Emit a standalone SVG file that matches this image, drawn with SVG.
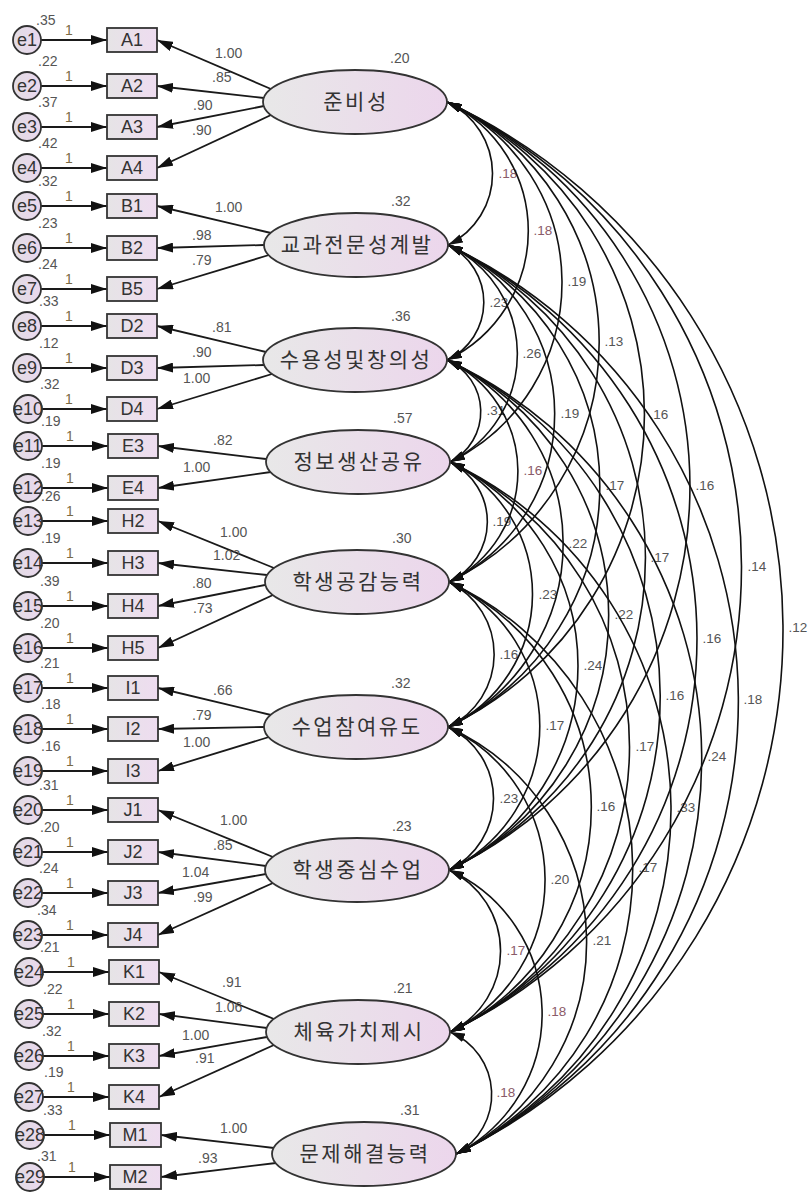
<svg xmlns="http://www.w3.org/2000/svg" width="808" height="1193" viewBox="0 0 808 1193">
<defs>
<linearGradient id="gLat" x1="0" y1="0" x2="1" y2="0"><stop offset="0" stop-color="#e8e8e8"/><stop offset="1" stop-color="#ecd6ec"/></linearGradient>
<linearGradient id="gBox" x1="0" y1="0" x2="1" y2="0"><stop offset="0" stop-color="#e6e4e6"/><stop offset="1" stop-color="#eedcf0"/></linearGradient>
<linearGradient id="gErr" x1="0" y1="0" x2="1" y2="0"><stop offset="0" stop-color="#e2dce4"/><stop offset="1" stop-color="#ead8ee"/></linearGradient>
<marker id="ah" viewBox="0 0 16 10" refX="16" refY="5" markerWidth="16" markerHeight="10" markerUnits="userSpaceOnUse" orient="auto-start-reverse"><path d="M0,0 L16,5 L0,10 z" fill="#111"/></marker>
<marker id="ac" viewBox="0 0 15 9" refX="15" refY="4.5" markerWidth="15" markerHeight="9" markerUnits="userSpaceOnUse" orient="auto-start-reverse"><path d="M0,0 L15,4.5 L0,9 z" fill="#111"/></marker>
</defs>
<style>
.box rect{fill:url(#gBox);stroke:#333;stroke-width:1.8}
.lat ellipse{fill:url(#gLat);stroke:#333;stroke-width:1.8}
.err circle{fill:url(#gErr);stroke:#333;stroke-width:1.8}
.bt{font-family:"Liberation Sans",Arial,sans-serif;font-size:18px;fill:#333;text-anchor:middle}
.et{font-family:"Liberation Sans",Arial,sans-serif;font-size:18px;fill:#333;text-anchor:middle}
.kr{font-family:"Noto Sans CJK KR","Noto Sans",sans-serif;font-size:21px;fill:#333;text-anchor:middle;letter-spacing:2.5px}
.n{font-family:"Liberation Sans",Arial,sans-serif;font-size:14px;fill:#555}
.one{font-family:"Liberation Sans",Arial,sans-serif;font-size:14px;fill:#7a6a45}
.c{font-family:"Liberation Sans",Arial,sans-serif;font-size:13.5px;fill:#555;text-anchor:middle}
.cr{fill:#8a5a68}
.ld line{stroke:#1a1a1a;stroke-width:1.8;marker-end:url(#ah)}
.cv path{stroke:#111;stroke-width:1.6;fill:none;marker-start:url(#ac);marker-end:url(#ac)}
</style>
<rect width="808" height="1193" fill="#fff"/>

<g id="connectors">
<g class="ld">
<line x1="41" y1="40" x2="107" y2="40"/><line x1="41" y1="86" x2="107" y2="86"/><line x1="41" y1="127" x2="107" y2="127"/><line x1="41" y1="168" x2="107" y2="168"/>
<line x1="41" y1="206" x2="107" y2="206"/><line x1="41" y1="248" x2="107" y2="248"/><line x1="41" y1="289" x2="107" y2="289"/>
<line x1="41" y1="326" x2="107" y2="326"/><line x1="41" y1="368" x2="107" y2="368"/><line x1="42" y1="409" x2="107" y2="409"/>
<line x1="42" y1="446" x2="108" y2="446"/><line x1="42" y1="488" x2="108" y2="488"/>
<line x1="42" y1="521" x2="108" y2="521"/><line x1="42" y1="563" x2="108" y2="563"/><line x1="42" y1="606" x2="108" y2="606"/><line x1="42" y1="648" x2="108" y2="648"/>
<line x1="42" y1="688" x2="108" y2="688"/><line x1="42" y1="729" x2="108" y2="729"/><line x1="42" y1="771" x2="108" y2="771"/>
<line x1="42" y1="810" x2="108" y2="810"/><line x1="42" y1="852" x2="108" y2="852"/><line x1="42" y1="893" x2="108" y2="893"/><line x1="42" y1="935" x2="108" y2="935"/>
<line x1="43" y1="972" x2="109" y2="972"/><line x1="43" y1="1014" x2="109" y2="1014"/><line x1="43" y1="1056" x2="109" y2="1056"/><line x1="43" y1="1097" x2="109" y2="1097"/>
<line x1="44" y1="1135" x2="110" y2="1135"/><line x1="44" y1="1177" x2="110" y2="1177"/>

<line x1="271" y1="89" x2="157" y2="40"/><line x1="264" y1="98" x2="157" y2="86"/><line x1="264" y1="106" x2="157" y2="127"/><line x1="271" y1="115" x2="157" y2="168"/>
<line x1="271" y1="233" x2="157" y2="206"/><line x1="264" y1="245" x2="157" y2="248"/><line x1="269" y1="255" x2="157" y2="289"/>
<line x1="266" y1="352" x2="157" y2="326"/><line x1="264" y1="365" x2="157" y2="368"/><line x1="272" y1="374" x2="157" y2="409"/>
<line x1="266" y1="459" x2="158" y2="446"/><line x1="271" y1="472" x2="158" y2="488"/>
<line x1="274" y1="568" x2="158" y2="521"/><line x1="267" y1="575" x2="158" y2="563"/><line x1="265" y1="585" x2="158" y2="606"/><line x1="273" y1="595" x2="158" y2="648"/>
<line x1="271" y1="715" x2="158" y2="688"/><line x1="264" y1="727" x2="158" y2="729"/><line x1="269" y1="737" x2="158" y2="771"/>
<line x1="273" y1="857" x2="158" y2="810"/><line x1="266" y1="866" x2="158" y2="852"/><line x1="266" y1="874" x2="158" y2="893"/><line x1="273" y1="883" x2="158" y2="935"/>
<line x1="274" y1="1019" x2="159" y2="972"/><line x1="267" y1="1028" x2="159" y2="1014"/><line x1="267" y1="1037" x2="159" y2="1056"/><line x1="274" y1="1045" x2="159" y2="1097"/>
<line x1="274" y1="1148" x2="161" y2="1135"/><line x1="276" y1="1163" x2="161" y2="1177"/>
</g>

<g id="cov-labels">
<text class="c cr" x="508" y="178">.18</text>
<text class="c cr" x="543" y="235">.18</text>
<text class="c" x="577" y="286">.19</text>
<text class="c" x="614" y="346">.13</text>
<text class="c" x="659" y="419">.16</text>
<text class="c" x="705" y="490">.16</text>
<text class="c" x="757" y="571">.14</text>
<text class="c" x="798" y="632">.12</text>
<text class="c" x="499" y="307">.23</text>
<text class="c" x="532" y="358">.26</text>
<text class="c" x="570" y="418">.19</text>
<text class="c" x="615" y="490">.17</text>
<text class="c" x="660" y="562">.17</text>
<text class="c" x="712" y="643">.16</text>
<text class="c" x="753" y="704">.18</text>
<text class="c" x="496" y="415">.31</text>
<text class="c cr" x="533" y="475">.16</text>
<text class="c" x="578" y="548">.22</text>
<text class="c" x="624" y="619">.22</text>
<text class="c" x="675" y="700">.16</text>
<text class="c" x="717" y="761">.24</text>
<text class="c" x="502" y="526">.19</text>
<text class="c" x="548" y="599">.23</text>
<text class="c" x="593" y="670">.24</text>
<text class="c" x="645" y="751">.17</text>
<text class="c" x="686" y="812">.33</text>
<text class="c" x="509" y="659">.16</text>
<text class="c" x="555" y="730">.17</text>
<text class="c" x="606" y="811">.16</text>
<text class="c" x="648" y="872">.17</text>
<text class="c" x="509" y="803">.23</text>
<text class="c" x="560" y="884">.20</text>
<text class="c" x="602" y="945">.21</text>
<text class="c cr" x="516" y="955">.17</text>
<text class="c cr" x="557" y="1016">.18</text>
<text class="c cr" x="506" y="1097">.18</text>
</g>

<g class="cv">
<path d="M447,102 A79.3,79.3 0 0 1 448,245"/>
<path d="M447,102 A143,143 0 0 1 447,360"/>
<path d="M447,102 A199.5,199.5 0 0 1 450,462"/>
<path d="M447,102 A266.1,266.1 0 0 1 449,582"/>
<path d="M447,102 A346.4,346.4 0 0 1 448,727"/>
<path d="M447,102 A425.7,425.7 0 0 1 449,870"/>
<path d="M447,102 A515.5,515.5 0 0 1 450,1032"/>
<path d="M447,102 A583.1,583.1 0 0 1 456,1154"/>
<path d="M448,245 A63.7,63.7 0 0 1 447,360"/>
<path d="M448,245 A120.3,120.3 0 0 1 450,462"/>
<path d="M448,245 A186.8,186.8 0 0 1 449,582"/>
<path d="M448,245 A267.2,267.2 0 0 1 448,727"/>
<path d="M448,245 A346.4,346.4 0 0 1 449,870"/>
<path d="M448,245 A436.2,436.2 0 0 1 450,1032"/>
<path d="M448,245 A503.9,503.9 0 0 1 456,1154"/>
<path d="M447,360 A56.5,56.5 0 0 1 450,462"/>
<path d="M447,360 A123.1,123.1 0 0 1 449,582"/>
<path d="M447,360 A203.4,203.4 0 0 1 448,727"/>
<path d="M447,360 A282.7,282.7 0 0 1 449,870"/>
<path d="M447,360 A372.5,372.5 0 0 1 450,1032"/>
<path d="M447,360 A440.1,440.1 0 0 1 456,1154"/>
<path d="M450,462 A66.5,66.5 0 0 1 449,582"/>
<path d="M450,462 A146.9,146.9 0 0 1 448,727"/>
<path d="M450,462 A226.2,226.2 0 0 1 449,870"/>
<path d="M450,462 A316,316 0 0 1 450,1032"/>
<path d="M450,462 A383.6,383.6 0 0 1 456,1154"/>
<path d="M449,582 A80.4,80.4 0 0 1 448,727"/>
<path d="M449,582 A159.6,159.6 0 0 1 449,870"/>
<path d="M449,582 A249.4,249.4 0 0 1 450,1032"/>
<path d="M449,582 A317.1,317.1 0 0 1 456,1154"/>
<path d="M448,727 A79.3,79.3 0 0 1 449,870"/>
<path d="M448,727 A169.1,169.1 0 0 1 450,1032"/>
<path d="M448,727 A236.7,236.7 0 0 1 456,1154"/>
<path d="M449,870 A89.8,89.8 0 0 1 450,1032"/>
<path d="M449,870 A157.4,157.4 0 0 1 456,1154"/>
<path d="M450,1032 A67.6,67.6 0 0 1 456,1154"/>
</g>

<g id="loading-labels">
<text class="n" x="215" y="58">1.00</text><text class="n" x="212" y="82">.85</text><text class="n" x="193" y="110">.90</text><text class="n" x="192" y="135">.90</text>
<text class="n" x="215" y="212">1.00</text><text class="n" x="192" y="240">.98</text><text class="n" x="192" y="265">.79</text>
<text class="n" x="212" y="332">.81</text><text class="n" x="192" y="357">.90</text><text class="n" x="183" y="383" fill="#8a7a40">1.00</text>
<text class="n" x="213" y="445">.82</text><text class="n" x="183" y="472">1.00</text>
<text class="n" x="220" y="537">1.00</text><text class="n" x="213" y="560">1.02</text><text class="n" x="192" y="588">.80</text><text class="n" x="193" y="613">.73</text>
<text class="n" x="213" y="695">.66</text><text class="n" x="192" y="720">.79</text><text class="n" x="183" y="747">1.00</text>
<text class="n" x="220" y="825">1.00</text><text class="n" x="213" y="850">.85</text><text class="n" x="182" y="877">1.04</text><text class="n" x="193" y="902">.99</text>
<text class="n" x="222" y="987">.91</text><text class="n" x="215" y="1012">1.06</text><text class="n" x="182" y="1040">1.00</text><text class="n" x="195" y="1063">.91</text>
<text class="n" x="220" y="1133" fill="#8a7a40">1.00</text><text class="n" x="198" y="1163">.93</text>
</g>

<g id="one-labels">
<text class="one" x="65" y="35">1</text><text class="one" x="65" y="81">1</text><text class="one" x="65" y="122">1</text><text class="one" x="65" y="163">1</text>
<text class="one" x="65" y="201">1</text><text class="one" x="65" y="243">1</text><text class="one" x="65" y="284">1</text>
<text class="one" x="65" y="321">1</text><text class="one" x="65" y="363">1</text><text class="one" x="65" y="404">1</text>
<text class="one" x="66" y="441">1</text><text class="one" x="66" y="483">1</text>
<text class="one" x="66" y="516">1</text><text class="one" x="66" y="558">1</text><text class="one" x="66" y="601">1</text><text class="one" x="66" y="643">1</text>
<text class="one" x="66" y="683">1</text><text class="one" x="66" y="724">1</text><text class="one" x="66" y="766">1</text>
<text class="one" x="66" y="805">1</text><text class="one" x="66" y="847">1</text><text class="one" x="66" y="888">1</text><text class="one" x="66" y="930">1</text>
<text class="one" x="67" y="967">1</text><text class="one" x="67" y="1009">1</text><text class="one" x="67" y="1051">1</text><text class="one" x="67" y="1092">1</text>
<text class="one" x="68" y="1130">1</text><text class="one" x="68" y="1172">1</text>
</g>
</g>

<g id="errors">
<g id="e1" class="err"><circle cx="27" cy="40" r="14"/><text class="et" x="27" y="46">e1</text><text class="n" x="36" y="25">.35</text></g>
<g id="e2" class="err"><circle cx="27" cy="86" r="14"/><text class="et" x="27" y="92">e2</text><text class="n" x="38" y="66">.22</text></g>
<g id="e3" class="err"><circle cx="27" cy="127" r="14"/><text class="et" x="27" y="133">e3</text><text class="n" x="38" y="107">.37</text></g>
<g id="e4" class="err"><circle cx="27" cy="168" r="14"/><text class="et" x="27" y="174">e4</text><text class="n" x="38" y="148">.42</text></g>
<g id="e5" class="err"><circle cx="27" cy="206" r="14"/><text class="et" x="27" y="212">e5</text><text class="n" x="38" y="186">.32</text></g>
<g id="e6" class="err"><circle cx="27" cy="248" r="14"/><text class="et" x="27" y="254">e6</text><text class="n" x="38" y="228">.23</text></g>
<g id="e7" class="err"><circle cx="27" cy="289" r="14"/><text class="et" x="27" y="295">e7</text><text class="n" x="38" y="269">.24</text></g>
<g id="e8" class="err"><circle cx="27" cy="326" r="14"/><text class="et" x="27" y="332">e8</text><text class="n" x="39" y="306">.33</text></g>
<g id="e9" class="err"><circle cx="27" cy="368" r="14"/><text class="et" x="27" y="374">e9</text><text class="n" x="39" y="348">.12</text></g>
<g id="e10" class="err"><circle cx="28" cy="409" r="14"/><text class="et" x="28" y="415">e10</text><text class="n" x="40" y="389">.32</text></g>
<g id="e11" class="err"><circle cx="28" cy="446" r="14"/><text class="et" x="28" y="452">e11</text><text class="n" x="41" y="426">.19</text></g>
<g id="e12" class="err"><circle cx="28" cy="488" r="14"/><text class="et" x="28" y="494">e12</text><text class="n" x="41" y="468">.19</text></g>
<g id="e13" class="err"><circle cx="28" cy="521" r="14"/><text class="et" x="28" y="527">e13</text><text class="n" x="41" y="501">.26</text></g>
<g id="e14" class="err"><circle cx="28" cy="563" r="14"/><text class="et" x="28" y="569">e14</text><text class="n" x="41" y="543">.19</text></g>
<g id="e15" class="err"><circle cx="28" cy="606" r="14"/><text class="et" x="28" y="612">e15</text><text class="n" x="40" y="586">.39</text></g>
<g id="e16" class="err"><circle cx="28" cy="648" r="14"/><text class="et" x="28" y="654">e16</text><text class="n" x="40" y="628">.20</text></g>
<g id="e17" class="err"><circle cx="28" cy="688" r="14"/><text class="et" x="28" y="694">e17</text><text class="n" x="40" y="668">.21</text></g>
<g id="e18" class="err"><circle cx="28" cy="729" r="14"/><text class="et" x="28" y="735">e18</text><text class="n" x="41" y="709">.18</text></g>
<g id="e19" class="err"><circle cx="28" cy="771" r="14"/><text class="et" x="28" y="777">e19</text><text class="n" x="41" y="751">.16</text></g>
<g id="e20" class="err"><circle cx="28" cy="810" r="14"/><text class="et" x="28" y="816">e20</text><text class="n" x="39" y="790">.31</text></g>
<g id="e21" class="err"><circle cx="28" cy="852" r="14"/><text class="et" x="28" y="858">e21</text><text class="n" x="40" y="832">.20</text></g>
<g id="e22" class="err"><circle cx="28" cy="893" r="14"/><text class="et" x="28" y="899">e22</text><text class="n" x="39" y="873">.24</text></g>
<g id="e23" class="err"><circle cx="28" cy="935" r="14"/><text class="et" x="28" y="941">e23</text><text class="n" x="37" y="915">.34</text></g>
<g id="e24" class="err"><circle cx="29" cy="972" r="14"/><text class="et" x="29" y="978">e24</text><text class="n" x="40" y="952">.21</text></g>
<g id="e25" class="err"><circle cx="29" cy="1014" r="14"/><text class="et" x="29" y="1020">e25</text><text class="n" x="43" y="994">.22</text></g>
<g id="e26" class="err"><circle cx="29" cy="1056" r="14"/><text class="et" x="29" y="1062">e26</text><text class="n" x="42" y="1036">.32</text></g>
<g id="e27" class="err"><circle cx="29" cy="1097" r="14"/><text class="et" x="29" y="1103">e27</text><text class="n" x="44" y="1077">.19</text></g>
<g id="e28" class="err"><circle cx="30" cy="1135" r="14"/><text class="et" x="30" y="1141">e28</text><text class="n" x="43" y="1115">.33</text></g>
<g id="e29" class="err"><circle cx="30" cy="1177" r="14"/><text class="et" x="30" y="1183">e29</text><text class="n" x="37" y="1161">.31</text></g>
</g>

<g id="observed">
<g id="A1" class="box"><rect x="107" y="28" width="50" height="24"/><text class="bt" x="132" y="46">A1</text></g>
<g id="A2" class="box"><rect x="107" y="74" width="50" height="24"/><text class="bt" x="132" y="92">A2</text></g>
<g id="A3" class="box"><rect x="107" y="115" width="50" height="24"/><text class="bt" x="132" y="133">A3</text></g>
<g id="A4" class="box"><rect x="107" y="156" width="50" height="24"/><text class="bt" x="132" y="174">A4</text></g>
<g id="B1" class="box"><rect x="107" y="194" width="50" height="24"/><text class="bt" x="132" y="212">B1</text></g>
<g id="B2" class="box"><rect x="107" y="236" width="50" height="24"/><text class="bt" x="132" y="254">B2</text></g>
<g id="B5" class="box"><rect x="107" y="277" width="50" height="24"/><text class="bt" x="132" y="295">B5</text></g>
<g id="D2" class="box"><rect x="107" y="314" width="50" height="24"/><text class="bt" x="132" y="332">D2</text></g>
<g id="D3" class="box"><rect x="107" y="356" width="50" height="24"/><text class="bt" x="132" y="374">D3</text></g>
<g id="D4" class="box"><rect x="107" y="397" width="50" height="24"/><text class="bt" x="132" y="415">D4</text></g>
<g id="E3" class="box"><rect x="108" y="434" width="50" height="24"/><text class="bt" x="133" y="452">E3</text></g>
<g id="E4" class="box"><rect x="108" y="476" width="50" height="24"/><text class="bt" x="133" y="494">E4</text></g>
<g id="H2" class="box"><rect x="108" y="509" width="50" height="24"/><text class="bt" x="133" y="527">H2</text></g>
<g id="H3" class="box"><rect x="108" y="551" width="50" height="24"/><text class="bt" x="133" y="569">H3</text></g>
<g id="H4" class="box"><rect x="108" y="594" width="50" height="24"/><text class="bt" x="133" y="612">H4</text></g>
<g id="H5" class="box"><rect x="108" y="636" width="50" height="24"/><text class="bt" x="133" y="654">H5</text></g>
<g id="I1" class="box"><rect x="108" y="676" width="50" height="24"/><text class="bt" x="133" y="694">I1</text></g>
<g id="I2" class="box"><rect x="108" y="717" width="50" height="24"/><text class="bt" x="133" y="735">I2</text></g>
<g id="I3" class="box"><rect x="108" y="759" width="50" height="24"/><text class="bt" x="133" y="777">I3</text></g>
<g id="J1" class="box"><rect x="108" y="798" width="50" height="24"/><text class="bt" x="133" y="816">J1</text></g>
<g id="J2" class="box"><rect x="108" y="840" width="50" height="24"/><text class="bt" x="133" y="858">J2</text></g>
<g id="J3" class="box"><rect x="108" y="881" width="50" height="24"/><text class="bt" x="133" y="899">J3</text></g>
<g id="J4" class="box"><rect x="108" y="923" width="50" height="24"/><text class="bt" x="133" y="941">J4</text></g>
<g id="K1" class="box"><rect x="109" y="960" width="50" height="24"/><text class="bt" x="134" y="978">K1</text></g>
<g id="K2" class="box"><rect x="109" y="1002" width="50" height="24"/><text class="bt" x="134" y="1020">K2</text></g>
<g id="K3" class="box"><rect x="109" y="1044" width="50" height="24"/><text class="bt" x="134" y="1062">K3</text></g>
<g id="K4" class="box"><rect x="109" y="1085" width="50" height="24"/><text class="bt" x="134" y="1103">K4</text></g>
<g id="M1" class="box"><rect x="110" y="1123" width="51" height="24"/><text class="bt" x="135" y="1141">M1</text></g>
<g id="M2" class="box"><rect x="110" y="1165" width="51" height="24"/><text class="bt" x="135" y="1183">M2</text></g>
</g>

<g id="latents">
<g id="L1" class="lat"><ellipse cx="355" cy="102" rx="92" ry="32"/><text class="kr" x="356" y="109">준비성</text><text class="n" x="390" y="63">.20</text></g>
<g id="L2" class="lat"><ellipse cx="356" cy="245" rx="92" ry="32"/><text class="kr" x="357" y="252">교과전문성계발</text><text class="n" x="391" y="206">.32</text></g>
<g id="L3" class="lat"><ellipse cx="355" cy="360" rx="92" ry="32"/><text class="kr" x="356" y="367">수용성및창의성</text><text class="n" x="391" y="321">.36</text></g>
<g id="L4" class="lat"><ellipse cx="358" cy="462" rx="92" ry="32"/><text class="kr" x="359" y="469">정보생산공유</text><text class="n" x="393" y="423">.57</text></g>
<g id="L5" class="lat"><ellipse cx="357" cy="582" rx="92" ry="32"/><text class="kr" x="358" y="589">학생공감능력</text><text class="n" x="392" y="543">.30</text></g>
<g id="L6" class="lat"><ellipse cx="356" cy="727" rx="92" ry="32"/><text class="kr" x="357" y="734">수업참여유도</text><text class="n" x="391" y="688">.32</text></g>
<g id="L7" class="lat"><ellipse cx="357" cy="870" rx="92" ry="32"/><text class="kr" x="358" y="877">학생중심수업</text><text class="n" x="392" y="831">.23</text></g>
<g id="L8" class="lat"><ellipse cx="358" cy="1032" rx="92" ry="32"/><text class="kr" x="359" y="1039">체육가치제시</text><text class="n" x="393" y="993">.21</text></g>
<g id="L9" class="lat"><ellipse cx="364" cy="1154" rx="92" ry="32"/><text class="kr" x="365" y="1161">문제해결능력</text><text class="n" x="400" y="1115">.31</text></g>
</g>
</svg>
